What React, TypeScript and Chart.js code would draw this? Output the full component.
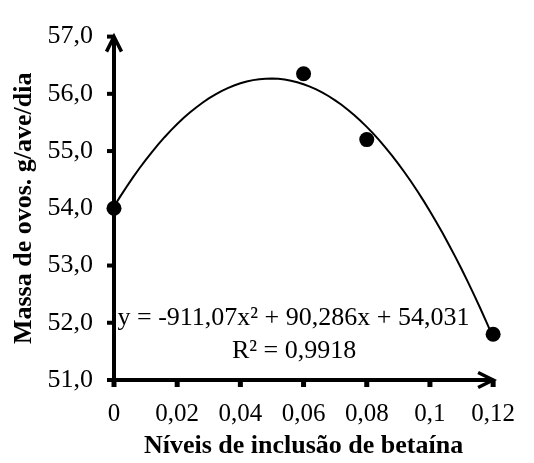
import React, { useEffect, useRef } from 'react';
import { Chart, registerables } from 'chart.js';

Chart.register(...registerables);

// ---- data ----
const betaineLevels = [0, 0.06, 0.08, 0.12];
const eggMass = [54.0, 56.35, 55.2, 51.8];
// polynomial trendline y = a x^2 + b x + c, as printed on the chart
const trendCoefficients = [-911.07, 90.286, 54.031];
const xTickValues = [0, 0.02, 0.04, 0.06, 0.08, 0.1, 0.12];
const yTickValues = [51, 52, 53, 54, 55, 56, 57];
const equationLines = ['y = -911,07x\u00B2 + 90,286x + 54,031', 'R\u00B2 = 0,9918'];
const xTitle = 'Níveis de inclusão de betaína';
const yTitle = 'Massa de ovos. g/ave/dia';

const SERIF = '"Times New Roman", "Liberation Serif", serif';

function fmtX(v: number): string {
  const r = Math.round(v * 100) / 100;
  if (r === 0) return '0';
  return String(r).replace('.', ',');
}
function fmtY(v: number): string {
  return (Math.round(v * 10) / 10).toFixed(1).replace('.', ',');
}

const trendX: number[] = [];
for (let i = 0; i <= 60; i++) trendX.push((xTickValues[xTickValues.length - 1] * i) / 60);
const trendData = trendX.map((x) => ({
  x,
  y: trendCoefficients[0] * x * x + trendCoefficients[1] * x + trendCoefficients[2],
}));

const overlayPlugin = {
  id: 'overlayAxes',
  afterDatasetsDraw(chart: any) {
    const { ctx, chartArea, scales } = chart;
    const xs = scales.x;
    const ys = scales.y;
    const left = chartArea.left;
    const bottom = chartArea.bottom;
    const top = chartArea.top;
    const right = chartArea.right;
    ctx.save();
    ctx.fillStyle = '#000';
    ctx.strokeStyle = '#000';

    // equation text
    ctx.font = '26px ' + SERIF;
    ctx.textAlign = 'center';
    ctx.textBaseline = 'alphabetic';
    ctx.fillText(equationLines[0], xs.getPixelForValue(0.0568), ys.getPixelForValue(51.96));
    ctx.fillText(equationLines[1], xs.getPixelForValue(0.057), ys.getPixelForValue(51.38));

    // axis lines
    ctx.lineWidth = 4;
    ctx.lineCap = 'butt';
    ctx.beginPath();
    ctx.moveTo(left, bottom + 2);
    ctx.lineTo(left, top + 2);
    ctx.stroke();
    ctx.beginPath();
    ctx.moveTo(left - 2, bottom);
    ctx.lineTo(right - 2, bottom);
    ctx.stroke();

    // tick marks
    yTickValues.forEach((v) => {
      const py = ys.getPixelForValue(v);
      ctx.fillRect(left - 7, py - 2, 7, 4);
    });
    xTickValues.forEach((v) => {
      const px = xs.getPixelForValue(v);
      ctx.fillRect(px - 2.5, bottom, 5, 7);
    });

    // arrow heads
    ctx.lineWidth = 3.5;
    ctx.lineJoin = 'miter';
    ctx.beginPath();
    ctx.moveTo(left - 7.5, top + 15);
    ctx.lineTo(left, top);
    ctx.lineTo(left + 7.5, top + 15);
    ctx.stroke();
    ctx.beginPath();
    ctx.moveTo(right - 15, bottom - 7.5);
    ctx.lineTo(right, bottom);
    ctx.lineTo(right - 15, bottom + 7.5);
    ctx.stroke();
    ctx.restore();
  },
};

export default function App() {
  const canvasRef = useRef<HTMLCanvasElement | null>(null);

  useEffect(() => {
    const canvas = canvasRef.current;
    if (!canvas) return;
    const chart = new Chart(canvas, {
      type: 'scatter',
      data: {
        datasets: [
          {
            type: 'scatter',
            label: 'Dados',
            data: betaineLevels.map((x, i) => ({ x, y: eggMass[i] })),
            backgroundColor: '#000',
            borderColor: '#000',
            pointRadius: 7.5,
            pointHoverRadius: 7.5,
            borderWidth: 0,
            clip: false as any,
            order: 0,
          },
          {
            type: 'line',
            label: 'Tendência',
            data: trendData,
            borderColor: '#000',
            borderWidth: 2,
            pointRadius: 0,
            tension: 0,
            fill: false,
            clip: false as any,
            order: 1,
          } as any,
        ],
      },
      options: {
        responsive: false,
        devicePixelRatio: 1,
        animation: false,
        events: [],
        layout: { padding: { left: 0, top: 18, right: 25, bottom: 0 } },
        plugins: {
          legend: { display: false },
          tooltip: { enabled: false },
        },
        scales: {
          x: {
            type: 'linear',
            min: 0,
            max: 0.12,
            afterBuildTicks: (s: any) => {
              s.ticks = xTickValues.map((v) => ({ value: v }));
            },
            afterFit: (s: any) => {
              s.height = 83;
            },
            grid: { display: false, drawTicks: false },
            border: { display: false },
            ticks: {
              color: '#000',
              font: { family: SERIF, size: 25 },
              padding: 19,
              maxRotation: 0,
              autoSkip: false,
              callback: (v: any) => fmtX(Number(v)),
            },
            title: {
              display: true,
              text: xTitle,
              color: '#000',
              font: { family: SERIF, size: 26, weight: 'bold' },
              padding: { top: 0, bottom: 1.2 },
            },
          },
          y: {
            type: 'linear',
            min: 51,
            max: 57,
            afterBuildTicks: (s: any) => {
              s.ticks = yTickValues.map((v) => ({ value: v }));
            },
            afterFit: (s: any) => {
              s.width = 114;
            },
            grid: { display: false, drawTicks: false },
            border: { display: false },
            ticks: {
              color: '#000',
              font: { family: SERIF, size: 26 },
              padding: 21,
              autoSkip: false,
              callback: (v: any) => fmtY(Number(v)),
            },
            title: {
              display: true,
              text: yTitle,
              color: '#000',
              font: { family: SERIF, size: 26, weight: 'bold' },
              padding: { top: 8.6, bottom: 0 },
            },
          },
        },
      },
      plugins: [overlayPlugin],
    });
    return () => chart.destroy();
  }, []);

  return (
    <div style={{ position: 'fixed', left: 0, top: 0, width: 534, height: 463, background: '#fff' }}>
      <canvas ref={canvasRef} width={534} height={463} style={{ display: 'block', width: 534, height: 463 }} />
    </div>
  );
}
